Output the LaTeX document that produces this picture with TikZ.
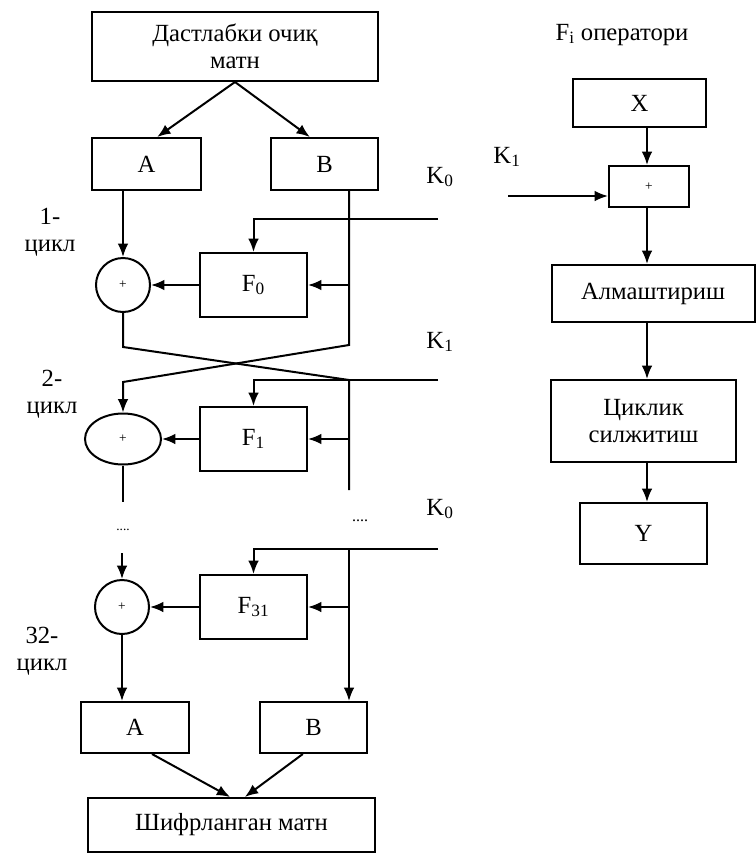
\documentclass[tikz,border=0pt]{standalone}
\usepackage{fontspec}
\setmainfont{Liberation Serif}
\usetikzlibrary{arrows.meta,positioning,shapes.geometric}

\begin{document}
\begin{tikzpicture}[x=0.75pt,y=-0.75pt,
  font=\fontsize{18.5}{20}\selectfont,
  line width=1.5pt,
  box/.style={draw,rectangle,inner sep=2pt,align=center},
  sum/.style={draw,circle,minimum size=40.5pt,inner sep=0pt,font=\fontsize{10}{12}\selectfont},
  arr/.style={-{Latex[length=10pt,width=8pt]}}]
\useasboundingbox (0,0) rectangle (756,857);
% left: rounds
\node[box,minimum width=214.5pt,minimum height=51.75pt] (src) at (235,46.5) {Дастлабки очиқ\\матн};
\node[box,minimum width=81.75pt,minimum height=39pt] (A1) at (146.5,164) {A};
\node[box,minimum width=80.25pt,minimum height=39pt] (B1) at (324.5,164) {B};
\node[sum] (s0) at (123,285) {+};
\node[box,minimum width=80.25pt,minimum height=48pt] (F0) at (253.5,285) {F\textsubscript{0}};
\node[sum,ellipse,minimum width=57pt,minimum height=38.25pt] (s1) at (123,439) {+};
\node[box,minimum width=80.25pt,minimum height=48pt] (F1) at (253.5,439) {F\textsubscript{1}};
\node[sum] (s2) at (122,607) {+};
\node[box,minimum width=80.25pt,minimum height=48pt] (F31) at (253.5,607) {F\textsubscript{31}};
\node[box,minimum width=81pt,minimum height=38.25pt] (A2) at (135,727.5) {A};
\node[box,minimum width=80.25pt,minimum height=38.25pt] (B2) at (313.5,727.5) {B};
\node[box,minimum width=215.25pt,minimum height=40.5pt] (dst) at (231.5,825) {Шифрланган матн};
% cycle labels
\node[align=center] (c1) at (50,232) {1-\\цикл};
\node[align=center] (c2) at (52,394) {2-\\цикл};
\node[align=center] (c32) at (42,651) {32-\\цикл};
\node[font=\fontsize{10}{12}\selectfont] (dl) at (123,530) {....};
\node[font=\fontsize{12}{14}\selectfont] (dr) at (360,521) {....};
% keys
\node (lk0) at (440,177) {K\textsubscript{0}};
\node (lk1) at (440,342) {K\textsubscript{1}};
\node (lk2) at (440,509) {K\textsubscript{0}};
\coordinate (k0) at (438,219);
\coordinate (k1) at (438,380);
\coordinate (k2) at (438,549);
\coordinate (bv) at (349,0);
\coordinate (x1) at (349,345);
\coordinate (x2) at (123,382);
\coordinate (y1) at (123,347);
\coordinate (y2) at (349,380);
\coordinate (y3) at (349,490);
\coordinate (e1) at (123,502);
\coordinate (e2) at (122,553);

\draw[arr] (src.south) -- ([xshift=8pt]A1.north);
\draw[arr] (src.south) -- ([xshift=-11pt]B1.north);
\draw[arr] (A1.south -| s0) -- (s0.north);
\draw[arr] (k0) -| (F0.north);
\draw[arr] (F0.east -| bv) -- (F0.east);
\draw[arr] (F0.west) -- (s0.east);
% swap of halves
\draw[arr] (B1.south -| bv) -- (x1) -- (x2) -- (s1.north);
\draw (s0.south) -- (y1) -- (y2) -- (y3);
\draw[arr] (k1) -| (F1.north);
\draw[arr] (F1.east -| bv) -- (F1.east);
\draw[arr] (F1.west) -- (s1.east);
\draw (s1.south) -- (e1);
\draw[arr] (e2) -- (s2.north);
\draw[arr] (k2) -| (F31.north);
\draw[arr] (k2 -| bv) -- (B2.north -| bv);
\draw[arr] (F31.east -| bv) -- (F31.east);
\draw[arr] (F31.west) -- (s2.east);
\draw[arr] (s2.south) -- (A2.north -| s2);
\draw[arr] ([xshift=12.75pt]A2.south) -- ([xshift=-1pt]dst.north);
\draw[arr] ([xshift=-8pt]B2.south) -- ([xshift=10pt]dst.north);

% right: F_i operator
\node (title) at (622,35) {F\textsubscript{i} оператори};
\node[box,minimum width=99.75pt,minimum height=36pt] (X) at (639.5,103) {X};
\node[box,minimum width=60pt,minimum height=30.75pt,font=\fontsize{10}{12}\selectfont] (plus) at (649,186.5) {+};
\node[box,minimum width=152.25pt,minimum height=42.75pt] (subst) at (653,293.5) {Алмаштириш};
\node[box,minimum width=138.75pt,minimum height=61.5pt] (shift) at (643.5,421) {Циклик\\силжитиш};
\node[box,minimum width=95.25pt,minimum height=45.75pt] (Y) at (643.5,533.5) {Y};
\node (lk) at (507,157) {K\textsubscript{1}};
\coordinate (rc) at (647,0);
\coordinate (kin) at (508,196);
\draw[arr] (X.south -| rc) -- (plus.north -| rc);
\draw[arr] (kin) -- (plus.west |- kin);
\draw[arr] (plus.south -| rc) -- (subst.north -| rc);
\draw[arr] (subst.south -| rc) -- (shift.north -| rc);
\draw[arr] (shift.south -| rc) -- (Y.north -| rc);
\end{tikzpicture}
\end{document}
